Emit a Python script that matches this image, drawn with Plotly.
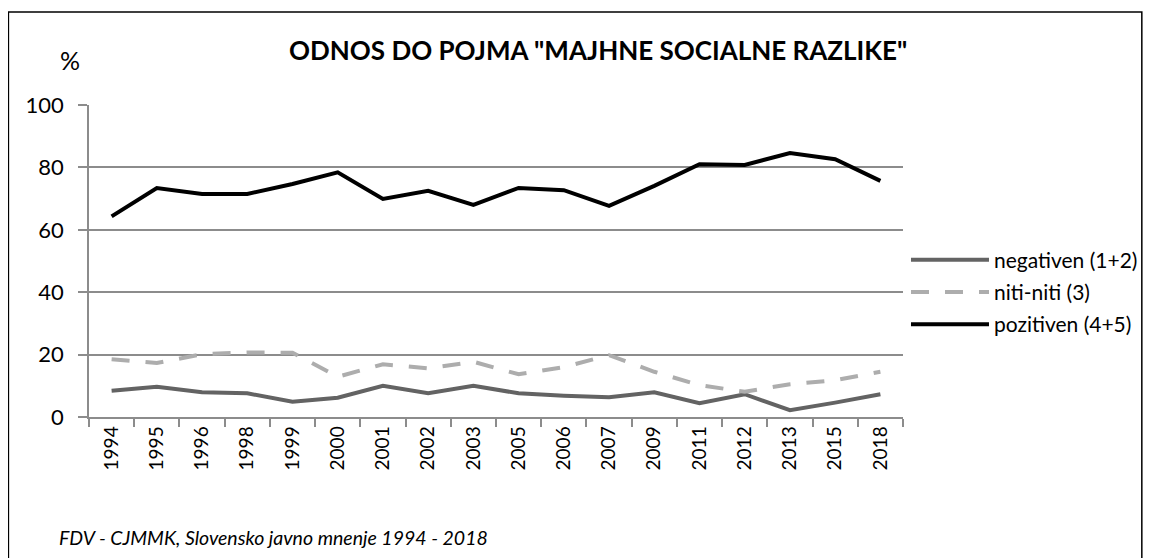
import plotly.graph_objects as go

years = ["1994", "1995", "1996", "1998", "1999", "2000", "2001", "2002", "2003",
         "2005", "2006", "2007", "2009", "2011", "2012", "2013", "2015", "2018"]
negativen = [8.4, 9.7, 7.9, 7.6, 4.9, 6.2, 10.0, 7.6, 10.0,
             7.6, 6.8, 6.3, 7.9, 4.4, 7.3, 2.2, 4.6, 7.3]
niti = [18.5, 17.3, 20.1, 20.7, 20.6, 12.9, 16.9, 15.6, 17.7,
        13.7, 16.0, 19.8, 14.5, 10.2, 8.1, 10.5, 11.8, 14.5]
pozitiven = [64.3, 73.4, 71.5, 71.5, 74.7, 78.4, 69.9, 72.5, 68.0,
             73.4, 72.7, 67.7, 74.1, 81.0, 80.8, 84.6, 82.6, 75.7]

series_names = ["negativen (1+2)", "niti-niti (3)", "pozitiven (4+5)"]
title_text = 'ODNOS DO POJMA "MAJHNE SOCIALNE RAZLIKE"'
source_text = "FDV - CJMMK, Slovensko javno mnenje 1994 - 2018"

FONT = "Lato"
W, H = 1147, 550
PX0, PW = 81, 818      # plot area left / width (figure px)
PY0, PH = 409, 312     # plot area bottom / height (figure px)


def px(x):
    return (x - PX0) / PW


def py(y):
    return (PY0 - y) / PH


fig = go.Figure()
fig.add_trace(go.Scatter(x=years, y=negativen, name=series_names[0], mode="lines",
                         legendgroup="a", line=dict(color="#636363", width=4)))
fig.add_trace(go.Scatter(x=years, y=niti, name=series_names[1], mode="lines",
                         legendgroup="b", line=dict(color="#adadad", width=4, dash="18px,16px")))
fig.add_trace(go.Scatter(x=years, y=pozitiven, name=series_names[2], mode="lines",
                         legendgroup="c", line=dict(color="#000000", width=4)))

fig.update_layout(
    width=W, height=H,
    margin=dict(l=PX0, r=W - PX0 - PW, t=PY0 - PH, b=H - PY0),
    paper_bgcolor="white", plot_bgcolor="white",
    font=dict(family=FONT, color="black", size=21),
    showlegend=True,
    legend=dict(x=px(902), y=py(284), xanchor="left", yanchor="middle",
                font=dict(size=21, family=FONT), tracegroupgap=2,
                itemwidth=78, bgcolor="rgba(0,0,0,0)"),
    xaxis=dict(type="category", range=[-0.5, 17.5], tickson="boundaries",
               ticks="outside", ticklen=8, tickcolor="#8c8c8c", tickwidth=1.5,
               showline=True, linecolor="#8c8c8c", linewidth=1.5,
               tickangle=-90, tickfont=dict(size=19, family=FONT),
               showgrid=False),
    yaxis=dict(range=[0, 100], dtick=20, tick0=0,
               showgrid=True, gridcolor="#8c8c8c", gridwidth=1.5,
               ticks="outside", ticklen=9, tickcolor="#8c8c8c", tickwidth=1.5,
               ticklabelstandoff=10,
               showline=True, linecolor="#8c8c8c", linewidth=1.5,
               zeroline=False, tickfont=dict(size=22, family=FONT)),
    annotations=[
        dict(text="<b>" + title_text + "</b>", xref="paper", yref="paper",
             x=px(593), y=py(42), xanchor="center", yanchor="middle",
             showarrow=False, font=dict(size=26, family=FONT)),
        dict(text="%", xref="paper", yref="paper",
             x=px(62), y=py(52), xanchor="center", yanchor="middle",
             showarrow=False, font=dict(size=25, family=FONT)),
        dict(text="<i>" + source_text + "</i>", xref="paper", yref="paper",
             x=px(49), y=py(529), xanchor="left", yanchor="middle",
             showarrow=False, font=dict(size=19.5, family=FONT)),
    ],
    shapes=[
        dict(type="rect", xref="paper", yref="paper",
             x0=px(0), x1=px(1139), y0=py(600), y1=py(4),
             line=dict(color="black", width=1.5), fillcolor="rgba(0,0,0,0)", layer="below"),
    ],
)

fig.write_html("out.html")
